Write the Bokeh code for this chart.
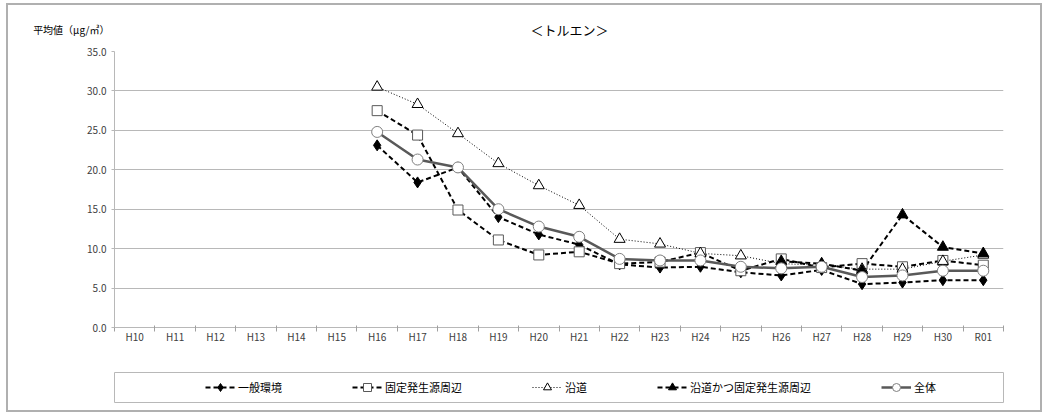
from bokeh.plotting import figure
from bokeh.models import Range1d, FixedTicker, NumeralTickFormatter, Legend, LegendItem
from bokeh.layouts import column
from bokeh.embed import file_html
from bokeh.resources import INLINE
from bokeh.core.properties import value

nan = float("nan")

categories = ["H10", "H11", "H12", "H13", "H14", "H15", "H16", "H17", "H18", "H19", "H20",
              "H21", "H22", "H23", "H24", "H25", "H26", "H27", "H28", "H29", "H30", "R01"]

ippan = [nan, nan, nan, nan, nan, nan, 23.1, 18.4, 20.3, 14.0, 11.8,
         10.5, 8.0, 7.6, 7.7, 7.0, 6.6, 7.3, 5.5, 5.7, 6.0, 6.0]
kotei = [nan, nan, nan, nan, nan, nan, 27.5, 24.4, 14.9, 11.1, 9.2,
         9.6, 8.1, 8.3, 9.5, 7.2, 8.7, 7.6, 8.1, 7.7, 8.5, 7.9]
endo = [nan, nan, nan, nan, nan, nan, 30.5, 28.3, 24.6, 20.8, 18.0,
        15.5, 11.2, 10.6, 9.4, 9.1, 8.1, 7.9, 7.4, 7.4, 8.4, 9.2]
endo_kotei = [nan, nan, nan, nan, nan, nan, nan, nan, nan, nan, nan,
              nan, nan, nan, nan, nan, 8.4, 8.1, 7.2, 14.3, 10.2, 9.4]
zentai = [nan, nan, nan, nan, nan, nan, 24.8, 21.3, 20.3, 15.0, 12.8,
          11.5, 8.7, 8.5, 8.5, 7.7, 7.5, 7.7, 6.4, 6.6, 7.2, 7.2]

series_names = ["一般環境", "固定発生源周辺", "沿道", "沿道かつ固定発生源周辺", "全体"]
series_values = [ippan, kotei, endo, endo_kotei, zentai]

title_text = "＜トルエン＞"
ylabel_text = "平均値（μg/㎥）"
y_ticks = [0, 5, 10, 15, 20, 25, 30, 35]

styles = [
    dict(line_color="black", line_width=2, line_dash="5 3", marker="diamond", size=11,
         fill_color="black", m_line="black"),
    dict(line_color="black", line_width=2, line_dash="5 3", marker="square", size=10,
         fill_color="white", m_line="#595959"),
    dict(line_color="black", line_width=1, line_dash="1 2", marker="triangle", size=11,
         fill_color="white", m_line="black"),
    dict(line_color="black", line_width=2, line_dash="5 3", marker="triangle", size=11,
         fill_color="black", m_line="black"),
    dict(line_color="#595959", line_width=2.5, line_dash="solid", marker="circle", size=11,
         fill_color="white", m_line="#808080"),
]

FONT = "Noto Sans CJK JP"
W = 1032
xs = [i + 0.5 for i in range(len(categories))]

# header strip: unit label as a horizontal axis label, chart title as text in its frame
p0 = figure(width=W, height=38, x_range=Range1d(114, 1003), y_range=Range1d(0, 1),
            x_axis_type=None, toolbar_location=None, output_backend="svg",
            min_border_top=9, min_border_bottom=0)
p0.outline_line_color = None
p0.grid.visible = False
p0.yaxis.ticker = FixedTicker(ticks=[])
p0.yaxis.axis_line_color = None
p0.yaxis.major_tick_line_color = None
p0.yaxis.minor_tick_line_color = None
p0.yaxis.major_tick_out = 0
p0.yaxis.minor_tick_out = 0
p0.yaxis.major_label_standoff = 0
p0.yaxis.axis_label = ylabel_text
p0.yaxis.axis_label_orientation = "horizontal"
p0.yaxis.axis_label_standoff = 5
p0.yaxis.axis_label_text_font = FONT
p0.yaxis.axis_label_text_font_size = "10px"
p0.yaxis.axis_label_text_font_style = "normal"
p0.yaxis.axis_label_text_color = "black"
p0.text(x=[569], y=[0.5], text=[title_text], text_font=value(FONT), text_font_size="13px",
        text_color="black", text_align="center", text_baseline="middle")

p = figure(width=W, height=322, x_range=Range1d(0, len(categories)), y_range=Range1d(0, 35),
           toolbar_location=None, output_backend="svg",
           min_border_left=106, min_border_right=37, min_border_top=8, min_border_bottom=38)
p.outline_line_color = None
p.xgrid.visible = False
p.ygrid.grid_line_color = "#b8b8b8"
p.ygrid.grid_line_width = 1

p.yaxis.ticker = FixedTicker(ticks=y_ticks)
p.yaxis.formatter = NumeralTickFormatter(format="0.0")
p.yaxis.axis_line_color = "#b8b8b8"
p.yaxis.major_tick_line_color = "#b8b8b8"
p.yaxis.major_tick_in = 0
p.yaxis.major_tick_out = 3
p.yaxis.minor_tick_line_color = None
p.yaxis.major_label_standoff = 5
p.yaxis.major_label_text_font = FONT
p.yaxis.major_label_text_font_size = "10px"
p.yaxis.major_label_text_color = "#404040"

p.xaxis.ticker = FixedTicker(ticks=xs, minor_ticks=list(range(len(categories) + 1)))
p.xaxis.major_label_overrides = {x: c for x, c in zip(xs, categories)}
p.xaxis.axis_line_color = "#b8b8b8"
p.xaxis.major_tick_line_color = None
p.xaxis.minor_tick_line_color = "#a0a0a0"
p.xaxis.minor_tick_in = 2
p.xaxis.minor_tick_out = 4
p.xaxis.major_label_standoff = -5
p.xaxis.major_label_text_font = FONT
p.xaxis.major_label_text_font_size = "10px"
p.xaxis.major_label_text_color = "#404040"

for vals, st in zip(series_values, styles):
    p.line(xs, vals, line_color=st["line_color"], line_width=st["line_width"], line_dash=st["line_dash"])
for vals, st in zip(series_values, styles):
    p.scatter(xs, vals, marker=st["marker"], size=st["size"], fill_color=st["fill_color"],
              line_color=st["m_line"], line_width=1)

# legend box strip
p2 = figure(width=W, height=45, x_range=Range1d(0, 1), y_range=Range1d(0, 1),
            x_axis_type=None, y_axis_type=None, toolbar_location=None, output_backend="svg",
            min_border_left=105, min_border_right=36, min_border_top=7, min_border_bottom=8)
p2.outline_line_color = "#b8b8b8"
p2.outline_line_width = 1
p2.grid.visible = False

items = []
for name, st in zip(series_names, styles):
    l = p2.line([nan], [nan], line_color=st["line_color"], line_width=st["line_width"],
                line_dash=st["line_dash"])
    s = p2.scatter([nan], [nan], marker=st["marker"], size=st["size"] - 3, fill_color=st["fill_color"],
                   line_color=st["m_line"], line_width=1)
    items.append(LegendItem(label=name, renderers=[l, s]))

legend = Legend(items=items, orientation="horizontal", location=(91, 5),
                border_line_alpha=0, background_fill_alpha=0, padding=0, margin=0,
                spacing=70, glyph_width=30, glyph_height=20, label_height=20, label_standoff=3,
                label_text_font=FONT, label_text_font_size="11px", label_text_color="black")
p2.add_layout(legend)

layout = column(p0, p, p2, spacing=0,
                styles={"border": "2px solid #b0b0b0", "margin-left": "6px", "margin-top": "3px"})

open("out.html", "w").write(file_html(layout, INLINE))
